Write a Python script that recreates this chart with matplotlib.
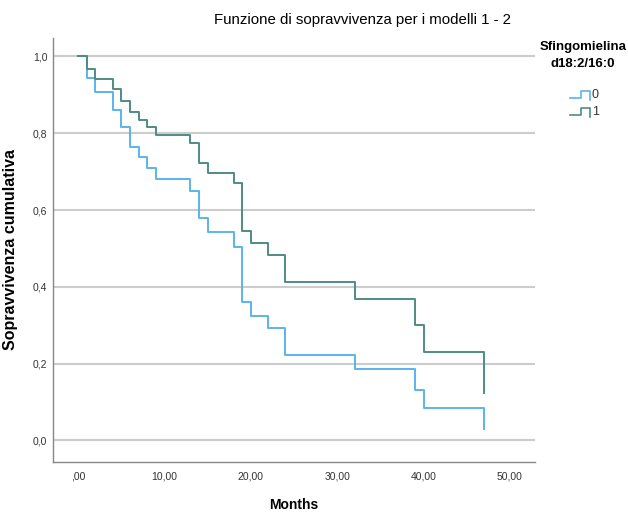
import matplotlib
matplotlib.use("Agg")
import matplotlib.pyplot as plt
from matplotlib.lines import Line2D

plt.rcParams['font.family'] = ['Liberation Sans', 'DejaVu Sans']

# Kaplan-Meier step values
months = [0, 1, 2, 4, 5, 6, 7, 8, 9, 13, 14, 15, 18, 19, 20, 22, 24, 32, 39, 40, 47]
surv_0 = [1.0, 0.943, 0.907, 0.861, 0.816, 0.765, 0.737, 0.709, 0.680, 0.650, 0.580,
          0.542, 0.505, 0.360, 0.325, 0.292, 0.223, 0.186, 0.132, 0.084, 0.030]
surv_1 = [1.0, 0.967, 0.941, 0.915, 0.884, 0.855, 0.835, 0.816, 0.796, 0.774, 0.723,
          0.696, 0.670, 0.546, 0.513, 0.482, 0.412, 0.368, 0.301, 0.231, 0.123]

x_ticks = [0, 10, 20, 30, 40, 50]
x_labels = [',00', '10,00', '20,00', '30,00', '40,00', '50,00']
y_ticks = [0.0, 0.2, 0.4, 0.6, 0.8, 1.0]
y_labels = ['0,0', '0,2', '0,4', '0,6', '0,8', '1,0']

blue = '#5ab4ec'
green = '#4e8c84'

fig = plt.figure(figsize=(6.28, 5.16), dpi=100)
ax = fig.add_axes([0.0844, 0.1047, 0.7676, 0.8217])

ax.step(months, surv_0, where='post', color=blue, lw=1.4)
ax.step(months, surv_1, where='post', color=green, lw=1.4)

ax.set_xlim(-2.9, 52.9)
ax.set_ylim(-0.056, 1.048)
ax.set_xticks(x_ticks)
ax.set_xticklabels(x_labels)
ax.set_yticks(y_ticks)
ax.set_yticklabels(y_labels)
ax.tick_params(length=0, labelsize=7.5, colors='#333333', pad=4)
ax.tick_params(axis='x', pad=7)
ax.yaxis.grid(True, color='#cccccc', lw=1.5)
ax.set_axisbelow(True)
for s in ['top', 'right']:
    ax.spines[s].set_visible(False)
for s in ['left', 'bottom']:
    ax.spines[s].set_color('#888888')
    ax.spines[s].set_linewidth(1.0)

ax.set_xlabel('Months', fontsize=10, fontweight='bold', labelpad=12)
ax.set_ylabel('Sopravvivenza cumulativa', fontsize=11.5, fontweight='bold')
ax.yaxis.set_label_coords(-(53 - 18) / 482, 0.5 + (250 - 250) / 424)

fig.text(363 / 628, 1 - 20 / 516, 'Funzione di sopravvivenza per i modelli 1 - 2',
         ha='center', va='center', fontsize=10.8)

# legend
fig.text(583 / 628, 1 - 47 / 516, 'Sfingomielina', ha='center', va='center',
         fontsize=9.5, fontweight='bold')
fig.text(583 / 628, 1 - 64 / 516, 'd18:2/16:0', ha='center', va='center',
         fontsize=9.5, fontweight='bold')
for i, (lab, col) in enumerate([('0', blue), ('1', green)]):
    yb = 1 - (98 + 17 * i) / 516
    yt = yb + 7 / 516
    xs = [570 / 628, 581 / 628, 581 / 628, 590 / 628, 590 / 628]
    ys = [yb, yb, yt, yt, yb - 2 / 516]
    fig.add_artist(Line2D(xs, ys, color=col, lw=1.2, transform=fig.transFigure))
    fig.text(592 / 628, yb + 3 / 516, lab, ha='left', va='center', fontsize=9, color='#333333')

fig.savefig('out.png', dpi=100)
